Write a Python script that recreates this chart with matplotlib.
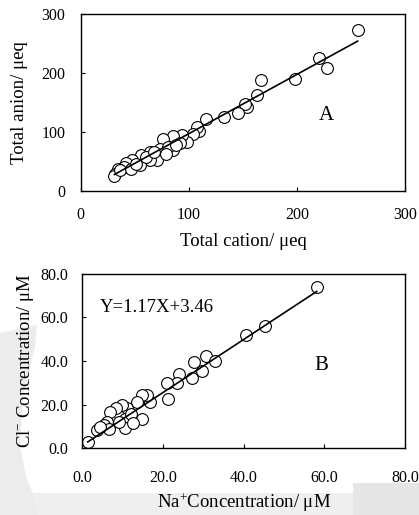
import matplotlib
matplotlib.use("Agg")
import matplotlib.pyplot as plt
from matplotlib.patches import Polygon
import numpy as np

plt.rcParams['font.family'] = ['Liberation Serif', 'DejaVu Serif']
plt.rcParams['mathtext.fontset'] = 'custom'
plt.rcParams['mathtext.rm'] = 'Liberation Serif'
plt.rcParams['mathtext.it'] = 'Liberation Serif:italic'

# Panel A data
cation = [256, 220.6, 228, 198.5, 167, 162.5, 153.5, 152, 145, 132, 116, 109, 107, 104,
          98.5, 94, 85, 92, 85, 76, 73, 80.6, 70, 63.7, 63.7, 56, 54.5, 47.7, 42, 40,
          34.5, 32, 31, 36, 46.8, 51, 60.6, 68, 79, 88]
anion = [273, 225.6, 208.5, 190, 188.6, 162, 143, 148, 132, 125, 121.6, 102, 108, 96.6,
         83.5, 95.5, 94, 82, 69, 89, 72, 75, 53, 66.5, 52, 61, 44, 52, 48, 41,
         38, 29.5, 25, 35, 38, 46.6, 58, 66.5, 63.6, 78]
fitA_slope, fitA_int = 1.004, -3.1
fitA_x = [31, 256]

# Panel B data
na = [58.1, 45.4, 40.5, 30.6, 32.8, 27.7, 29.7, 27.3, 24.0, 23.5, 21.0, 21.3, 16.8, 16.0,
      14.8, 13.5, 14.9, 11.0, 9.9, 8.3, 7.0, 10.7, 10.7, 9.1, 6.2, 5.4, 6.6, 3.7, 1.4,
      12.0, 12.5, 4.5]
cl = [73.8, 56.3, 52.0, 42.3, 40.0, 39.7, 35.4, 32.0, 34.0, 29.7, 29.7, 22.5, 21.2, 24.3,
      24.3, 21.2, 13.5, 18.5, 19.7, 18.2, 16.6, 13.5, 9.4, 12.0, 12.0, 10.5, 8.9, 8.2, 2.8,
      15.8, 11.5, 9.5]
fitB_slope, fitB_int = 1.22, 1.1
fitB_x = [1.4, 58.1]

W, H = 419, 515
fig = plt.figure(figsize=(W / 100, H / 100), dpi=100)

# faint watermark shapes in a background axes (pixel coords, top-left origin)
bg = fig.add_axes([0, 0, 1, 1], zorder=-10)
bg.set_xlim(0, W)
bg.set_ylim(H, 0)
bg.axis('off')
left_shape = [(0, 333), (37, 325), (35, 347), (23, 397), (20, 447), (27, 480),
              (33, 493), (40, 515), (0, 515)]
bg.add_patch(Polygon(left_shape, closed=True, facecolor='#ececec', edgecolor='none'))
bg.add_patch(Polygon([(33, 493), (353, 493), (353, 515), (40, 515)], closed=True,
                     facecolor='#efefef', edgecolor='none'))
bg.add_patch(Polygon([(353, 483), (419, 483), (419, 515), (353, 515)], closed=True,
                     facecolor='#e6e6e6', edgecolor='none'))

def style(ax, xpad, ypad):
    ax.patch.set_alpha(0)
    for s in ax.spines.values():
        s.set_linewidth(1.0)
        s.set_color('black')
    ax.tick_params(direction='in', length=3, width=0.8, labelsize=11.5)
    ax.tick_params(axis='x', pad=xpad)
    ax.tick_params(axis='y', pad=ypad)

axA = fig.add_axes([0.193, 0.629, 0.774, 0.344])
axA.plot(cation, anion, 'o', ms=8.5, mfc='white', mec='black', mew=0.8, zorder=2)
xa = np.array(fitA_x)
axA.plot(xa, fitA_slope * xa + fitA_int, '-', color='black', lw=1.2, zorder=3)
axA.set_xlim(0, 300)
axA.set_ylim(0, 300)
axA.set_xticks([0, 100, 200, 300])
axA.set_yticks([0, 100, 200, 300])
style(axA, 11.5, 11)
axA.set_xlabel('Total cation/ μeq', fontsize=13.5, labelpad=7)
axA.set_ylabel('Total anion/ μeq', fontsize=13.5, labelpad=10)
axA.text(220, 120, 'A', fontsize=15)

axB = fig.add_axes([0.196, 0.130, 0.771, 0.338])
axB.plot(na, cl, 'o', ms=8.5, mfc='white', mec='black', mew=0.8, zorder=2)
xb = np.array(fitB_x)
axB.plot(xb, fitB_slope * xb + fitB_int, '-', color='black', lw=1.2, zorder=3)
axB.set_xlim(0, 80)
axB.set_ylim(0, 80)
axB.set_xticks([0, 20, 40, 60, 80])
axB.set_yticks([0, 20, 40, 60, 80])
axB.set_xticklabels(['0.0', '20.0', '40.0', '60.0', '80.0'])
axB.set_yticklabels(['0.0', '20.0', '40.0', '60.0', '80.0'])
style(axB, 15.5, 10)
axB.set_xlabel('Na$^{+}$Concentration/ μM', fontsize=13.5, labelpad=4)
axB.set_ylabel('Cl$^{-}$ Concentration/ μM', fontsize=13.5, labelpad=3)
axB.text(4.5, 62.5, 'Y=1.17X+3.46', fontsize=13.5)
axB.text(57.5, 36, 'B', fontsize=15)

fig.savefig('out.png', dpi=100)
